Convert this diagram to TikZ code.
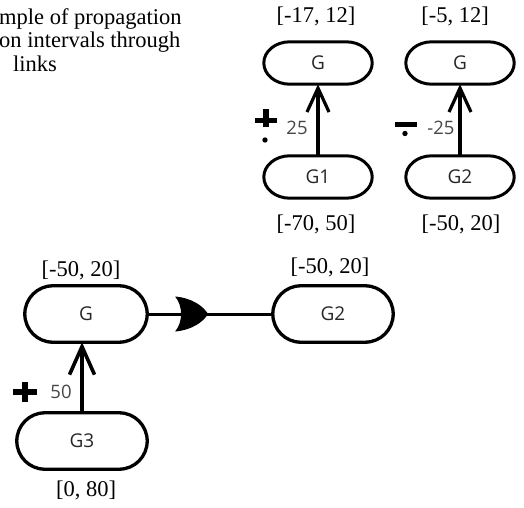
\documentclass[tikz,border=0pt]{standalone}
\usepackage{fontspec}
\setmainfont{Liberation Serif}
\newfontfamily\goalfont{Open Sans}
\usetikzlibrary{arrows.meta,calc}

% outline of a goal: flat top and bottom, elliptic ends of horizontal radius #3
\newcommand\goaloutline[3][capline]{%
  \draw[#1] let \p1=(#2.north west), \p2=(#2.south east), \n1={(\y1-\y2)/2} in
    (\x1+#3,\y1) -- (\x2-#3,\y1)
    arc[start angle=90,end angle=-90,x radius=#3,y radius=\n1]
    -- (\x1+#3,\y2)
    arc[start angle=270,end angle=90,x radius=#3,y radius=\n1] -- cycle;}

\begin{document}
\begin{tikzpicture}[x=1pt,y=1pt,
  capline/.style={line width=3pt,line join=round},
  goal/.style={rectangle,inner sep=0pt,font=\goalfont\fontsize{19}{22}\selectfont,text=black!85},
  topgoal/.style={goal,minimum width=108pt,minimum height=42pt},
  botgoal/.style={goal,minimum height=56pt},
  interval/.style={inner sep=0pt,font=\fontsize{22.5}{25}\selectfont},
  caption/.style={anchor=base west,inner sep=0pt,font=\fontsize{22.5}{25}\selectfont},
  weight/.style={inner sep=0pt,font=\goalfont\fontsize{18.5}{22}\selectfont,text=black!72},
  contrib/.style={line width=3.2pt,-{Straight Barb[length=24pt,width=22pt]}},
  bigcontrib/.style={line width=3.6pt,-{Straight Barb[length=28pt,width=25pt]}},
  sign/.style={line width=5.5pt},
]
\useasboundingbox (0,0) rectangle (524,507);

% caption fragment
\node[caption] (cap1) at (-1,482) {mple of propagation};
\node[caption] (cap2) at (-1,459) {on intervals through};
\node[caption] (cap3) at (13,435) {links};

% ---- positive contribution G1 -> G
\node[topgoal] (gA) at (318,444) {G};
\node[topgoal] (g1) at (318,330) {G1};
\goaloutline{gA}{26pt}
\goaloutline{g1}{26pt}
\node[interval] (lA) at (316,491) {[-17, 12]};
\node[interval] (l1) at (316,283) {[-70, 50]};
\draw[contrib] (g1.north) -- (gA.south);
\coordinate (s1) at (266,386.5);
\draw[sign] (s1) ++(-11,0) -- ++(22,0) (s1) ++(0,-7) -- ++(0,18);
\fill (s1) ++(-1,-19.5) circle (2.7);
\node[weight] (w1) at (297,379) {25};

% ---- negative contribution G2 -> G
\node[topgoal] (gB) at (460,444) {G};
\node[topgoal] (g2) at (460,330) {G2};
\goaloutline{gB}{26pt}
\goaloutline{g2}{26pt}
\node[interval] (lB) at (455,491) {[-5, 12]};
\node[interval] (l2) at (461,283) {[-50, 20]};
\draw[contrib] (g2.north) -- (gB.south);
\coordinate (s2) at (406,382.5);
\draw[sign] (s2) ++(-11,0) -- ++(22,0);
\fill (s2) ++(-1,-9) circle (2.7);
\node[weight] (w2) at (441,379) {-25};

% ---- G3 contributes to G, which is linked to G2
\node[botgoal,minimum width=122pt] (gC) at (86,193) {G};
\node[botgoal,minimum width=120pt] (g2b) at (333,193) {G2};
\node[botgoal,minimum width=130pt] (g3) at (82,66) {G3};
\goaloutline[capline,line width=3.3pt]{gC}{28pt}
\goaloutline[capline,line width=3.3pt]{g2b}{28pt}
\goaloutline[capline,line width=3.3pt]{g3}{28pt}
\node[interval] (lC) at (81,237) {[-50, 20]};
\node[interval] (l2b) at (330,240) {[-50, 20]};
\node[interval] (l3) at (86,17) {[0, 80]};
\draw[bigcontrib] (g3.north) -- (g3.north |- gC.south);
\coordinate (s3) at (25,115);
\draw[line width=6.5pt] (s3) ++(-12,0) -- ++(24,0) (s3) ++(0,-10) -- ++(0,20);
\node[weight] (w3) at (61,115) {50};

\draw[line width=3pt] (gC.east) -- (g2b.west) coordinate[pos=0.222] (h);
\begin{scope}[shift={(h)}]
  \fill (0,17.5) .. controls (17,16) and (28,8) .. (33,0)
        .. controls (28,-8) and (17,-16) .. (0,-17.5)
        .. controls (8,-8) and (8,8) .. (0,17.5) -- cycle;
\end{scope}
\end{tikzpicture}
\end{document}
